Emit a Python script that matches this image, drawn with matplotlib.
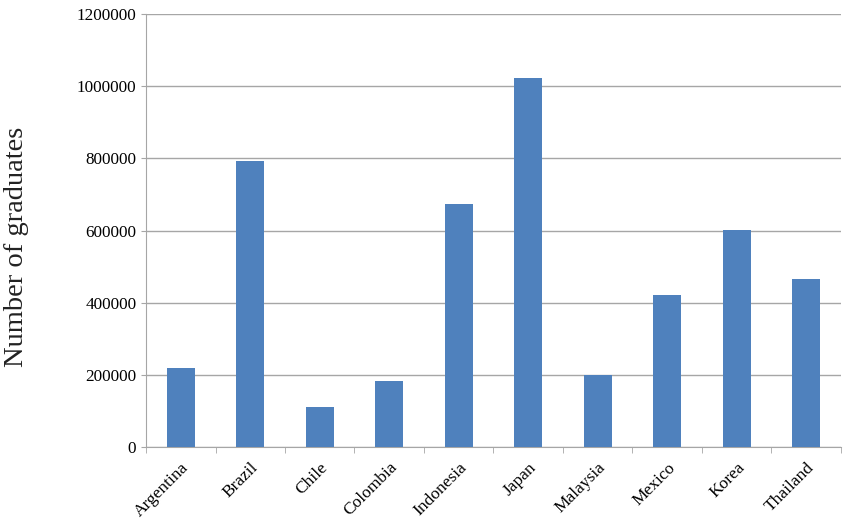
import matplotlib
matplotlib.use('Agg')
import matplotlib.pyplot as plt
import numpy as np

countries = ['Argentina', 'Brazil', 'Chile', 'Colombia', 'Indonesia',
             'Japan', 'Malaysia', 'Mexico', 'Korea', 'Thailand']
graduates = [219000, 792000, 111000, 183000, 673000,
             1022000, 200000, 421000, 601000, 466000]
yticks = [0, 200000, 400000, 600000, 800000, 1000000, 1200000]

plt.rcParams['font.family'] = ['Liberation Serif', 'DejaVu Serif']

fig = plt.figure(figsize=(8.43, 5.24), dpi=100)
ax = fig.add_axes([0.1732, 0.1469, 0.8244, 0.8264])

x = np.arange(len(countries))
ax.bar(x, graduates, width=0.4, color='#4F81BD', zorder=3)

ax.set_xlim(-0.5, len(countries) - 0.5)
ax.set_ylim(0, 1200000)
ax.set_yticks(yticks)
ax.set_yticklabels([str(v) for v in yticks], fontsize=12.3)
ax.yaxis.grid(True, color='#A6A6A6', linewidth=1, zorder=0)

ax.set_xticks(x)
ax.set_xticklabels(countries, rotation=45, ha='right', va='top',
                   rotation_mode='anchor', fontsize=12.5)
ax.set_xticks(np.arange(len(countries) + 1) - 0.5, minor=True)
ax.tick_params(axis='x', which='major', length=0, pad=9)
ax.tick_params(axis='x', which='minor', length=4, color='#A6A6A6')
ax.tick_params(axis='y', length=3.5, color='#A6A6A6', pad=3.5)

for side in ['top', 'right']:
    ax.spines[side].set_visible(False)
for side in ['left', 'bottom']:
    ax.spines[side].set_color('#A6A6A6')

fig.text(0.019, 0.528, 'Number of graduates', rotation=90, fontsize=20.5,
         ha='center', va='center', color='#222222')

plt.savefig('out.png', dpi=100)
